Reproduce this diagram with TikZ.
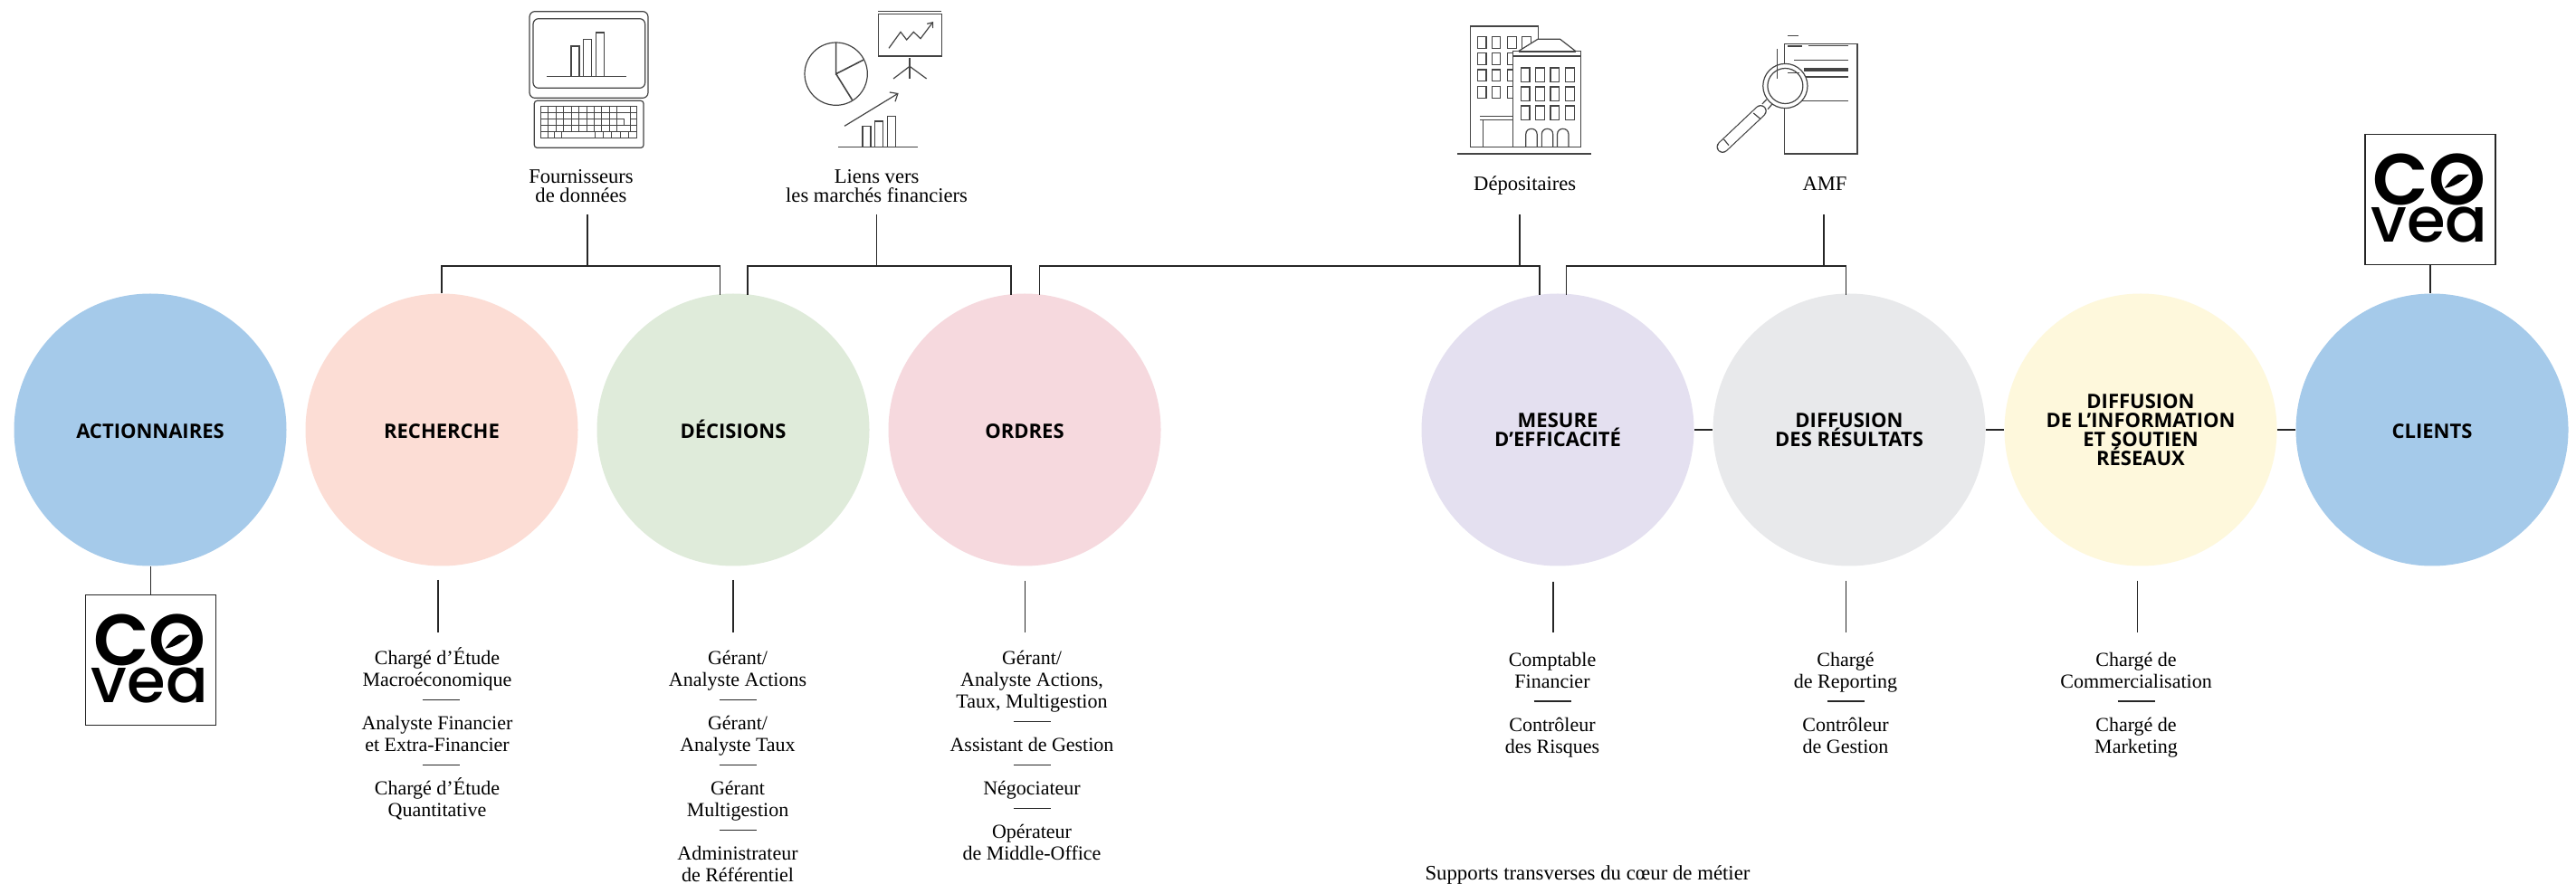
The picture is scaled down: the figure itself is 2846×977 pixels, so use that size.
\documentclass[tikz,border=0pt]{standalone}
\usepackage{fontspec}
\setmainfont{Liberation Serif}
\newfontfamily\headfont{Open Sans}
\newfontfamily\logofont{Poppins SemiBold}
\newfontfamily\logofontb{Poppins Medium}
\usetikzlibrary{arrows.meta}
\definecolor{cblue}{HTML}{A5CAEA}
\definecolor{cpeach}{HTML}{FCDDD5}
\definecolor{cgreen}{HTML}{DFEBDA}
\definecolor{cpink}{HTML}{F6D9DE}
\definecolor{cviolet}{HTML}{E4E0F0}
\definecolor{cgrey}{HTML}{E8E9EB}
\definecolor{cyellow}{HTML}{FEF8DC}
\definecolor{iconc}{HTML}{444444}
\tikzset{
  stage/.style={circle,minimum size=150.5pt,inner sep=0pt,align=center,text=black,text depth=-2.5pt,
    font=\headfont\bfseries\fontsize{11}{10.5}\selectfont},
  oneline/.style={text height=10pt,text depth=0pt},
  conn/.style={draw=black!85,line width=.7pt},
  icon/.style={draw=iconc,line width=.6pt},
  toplabel/.style={anchor=base,align=center,inner sep=0pt,font=\fontsize{11.3}{10.5}\selectfont},
  botlabel/.style={anchor=base,align=center,inner sep=0pt,font=\fontsize{11}{12}\selectfont},
  logobox/.style={draw=black!85,line width=.7pt,minimum size=72pt,inner sep=0pt,fill=white},
  logotext/.style={anchor=base,align=center,inner sep=0pt,font=\logofont\fontsize{40}{20.83}\selectfont},
}
\newcommand{\sepline}[2]{\draw[conn] ({#1-20.5},#2) -- ({#1+20.5},#2);}
\newcommand{\covealogo}[3]{%
  \node[logobox] (#1) at (#2,#3) {};
  \begin{scope}[shift={(#1.north west)},x=.16667pt,y=-.16667pt]
    \node[logotext] (#1-word) at (214.5,359)
      {CO\\\logofontb\fontsize{34.5}{20.83}\selectfont vea};
    \fill[black] (347,134) -- (312,134) .. controls (295,140) and (280,160) .. (265,179) .. controls (290,176) and (315,165) .. (347,134) -- cycle;
  \end{scope}}
\begin{document}
\begin{tikzpicture}[x=.5pt,y=-.5pt]
\useasboundingbox (0,0) rectangle (2846,977);
\fill[white] (0,0) rectangle (2846,977);

% stages
\node[stage,oneline,fill=cblue]   (act)  at (166,475)  {ACTIONNAIRES};
\node[stage,oneline,fill=cpeach]  (rech) at (488,475)  {RECHERCHE};
\node[stage,oneline,fill=cgreen]  (deci) at (810,475)  {DÉCISIONS};
\node[stage,oneline,fill=cpink]   (ordr) at (1132,475) {ORDRES};
\node[stage,fill=cviolet] (mes)  at (1721,475) {MESURE\\D’EFFICACITÉ};
\node[stage,fill=cgrey]   (dres) at (2043,475) {DIFFUSION\\DES RÉSULTATS};
\node[stage,fill=cyellow] (dinf) at (2365,475) {DIFFUSION\\DE L’INFORMATION\\ET SOUTIEN\\RÉSEAUX};
\node[stage,oneline,fill=cblue]   (cli)  at (2687,475) {CLIENTS};

% logos
\covealogo{logoa}{166.7}{729.7}
\covealogo{logob}{2685}{220.8}
\draw[conn] (act.south -| logoa.north) -- (logoa.north);
\draw[conn] (logob.south) -- (cli.north -| logob.south);

% links between stages
\draw[conn] (mes.east) -- (dres.west);
\draw[conn] (dres.east) -- (dinf.west);
\draw[conn] (dinf.east) -- (cli.west);

% top labels
\node[toplabel] (fourn) at (642,224) {Fournisseurs\\de données};
\node[toplabel] (liens) at (968.6,224) {Liens vers\\les marchés financiers};
\node[toplabel] (depo)  at (1684.7,210.5) {Dépositaires};
\node[toplabel] (amf)   at (2016,210.5) {AMF};

% top connectors
\coordinate (sa) at (649,237);
\coordinate (sb) at (968.6,237);
\coordinate (sc) at (1679,237);
\coordinate (sd) at (2015,237);
\coordinate (ba) at (649,294);
\coordinate (bb) at (968.6,294);
\coordinate (bc) at (1679,294);
\coordinate (bd) at (2015,294);
\coordinate (ea) at (795.5,326);
\coordinate (eb) at (826,326);
\coordinate (ec) at (1117,326);
\coordinate (ed) at (1148.6,326);
\coordinate (ee) at (1701,326);
\coordinate (ef) at (1730.5,326);
\coordinate (eg) at (2039.5,326);
\draw[conn] (sa) -- (ba);
\draw[conn] (sb) -- (bb);
\draw[conn] (sc) -- (bc);
\draw[conn] (sd) -- (bd);
\draw[conn] (rech.north) |- (ba) -| (ea);
\draw[conn] (eb) |- (bb) -| (ec);
\draw[conn] (ed) |- (bc) -| (ee);
\draw[conn] (ef) |- (bd) -| (eg);

% bottom stems
\coordinate (ta) at (484,641);   \coordinate (ua) at (484,699);
\coordinate (tb) at (810,641);   \coordinate (ub) at (810,699);
\coordinate (tc) at (1132.5,642);\coordinate (uc) at (1132.5,699);
\coordinate (td) at (1716,643);  \coordinate (ud) at (1716,699);
\coordinate (te) at (2039.4,642);\coordinate (ue) at (2039.4,699);
\coordinate (tf) at (2361.5,642);\coordinate (uf) at (2361.5,699);
\draw[conn] (ta) -- (ua); \draw[conn] (tb) -- (ub); \draw[conn] (tc) -- (uc);
\draw[conn] (td) -- (ud); \draw[conn] (te) -- (ue); \draw[conn] (tf) -- (uf);

% bottom text: recherche
\node[botlabel] (r1) at (483,758) {Chargé d’Étude\\Macroéconomique};
\sepline{487}{773.7}
\node[botlabel] (r2) at (483,830) {Analyste Financier\\et Extra-Financier};
\sepline{487}{845.7}
\node[botlabel] (r3) at (483,902) {Chargé d’Étude\\Quantitative};
% decisions
\node[botlabel] (d1) at (815,758) {Gérant/\\Analyste Actions};
\sepline{815}{773.7}
\node[botlabel] (d2) at (815,830) {Gérant/\\Analyste Taux};
\sepline{815}{845.7}
\node[botlabel] (d3) at (815,902) {Gérant\\Multigestion};
\sepline{815}{917.7}
\node[botlabel] (d4) at (815,974) {Administrateur\\de Référentiel};
% ordres
\node[botlabel] (o1) at (1140,782) {Gérant/\\Analyste Actions,\\Taux, Multigestion};
\sepline{1140}{797.7}
\node[botlabel] (o2) at (1140,830) {Assistant de Gestion};
\sepline{1140}{845.7}
\node[botlabel] (o3) at (1140,878) {Négociateur};
\sepline{1140}{893.7}
\node[botlabel] (o4) at (1140,950) {Opérateur\\de Middle-Office};
% mesure
\node[botlabel] (m1) at (1715,760) {Comptable\\Financier};
\sepline{1715}{775}
\node[botlabel] (m2) at (1715,832) {Contrôleur\\des Risques};
% resultats
\node[botlabel] (s1) at (2039,760) {Chargé\\de Reporting};
\sepline{2039}{775}
\node[botlabel] (s2) at (2039,832) {Contrôleur\\de Gestion};
% information
\node[botlabel] (i1) at (2360,760) {Chargé de\\Commercialisation};
\sepline{2360}{775}
\node[botlabel] (i2) at (2360,832) {Chargé de\\Marketing};
% transverse
\node[botlabel,font=\fontsize{11.4}{12}\selectfont] (sup) at (1754,972) {Supports transverses du cœur de métier};

% icon: computer
\begin{scope}[shift={(570,0)},x=.16667pt,y=-.16667pt]
  \draw[icon,rounded corners=3pt] (45,38) rectangle (438,325);
  \draw[icon,rounded corners=3pt] (57,62) rectangle (428,292);
  \draw[icon] (183,253) rectangle (210,153);
  \draw[icon] (224,253) rectangle (251,131);
  \draw[icon] (265,253) rectangle (293,108);
  \draw[icon] (102,253) -- (366,253);
  \draw[icon,rounded corners=1.5pt] (61,334) rectangle (423,490);
  \begin{scope}[line width=.4pt,draw=iconc]
    \foreach \r in {0,1,2,3} \foreach \k in {0,...,9}
      \draw ({82+25.3*\k},{352+21.2*\r}) rectangle ++(25.3,21.2);
    \draw (335,352) rectangle (378,373.2);
    \draw (378,352) rectangle (400,373.2);
    \draw (335,373.2) -- (378,373.2) -- (378,415.6) -- (358,415.6) -- (358,394.4) -- (335,394.4) -- cycle;
    \draw (378,373.2) rectangle (400,394.4);
    \draw (335,394.4) rectangle (358,415.6);
    \draw (378,394.4) rectangle (400,415.6);
    \draw (335,415.6) rectangle (378,436.8);
    \draw (378,415.6) rectangle (400,436.8);
    \foreach \k in {0,1,2} \draw ({82+22.7*\k},436.8) rectangle ++(22.7,21.2);
    \draw (150,436.8) rectangle (262,458);
    \foreach \k in {0,...,4} \draw ({262+27.6*\k},436.8) rectangle ++(27.6,21.2);
  \end{scope}
\end{scope}

% icon: charts
\begin{scope}[shift={(870,0)},x=.16667pt,y=-.16667pt]
  \draw[icon] (300,38) -- (511,38);
  \draw[icon,line width=.8pt] (301,47) rectangle (511,186);
  \draw[icon,-{Straight Barb[length=2.5pt,width=4pt]}] (336,160) -- (375,106) -- (395,132) -- (418,106) -- (441,128) -- (483,72);
  \draw[icon] (405,193) -- (405,261);
  \draw[icon] (351,261) -- (405,220) -- (461,261);
  \draw[icon] (161,245) circle[radius=17.33pt];
  \draw[icon,line width=.8pt] (161,141) -- (161,245) -- (253,198);
  \draw[icon,line width=.8pt] (161,245) -- (215,332);
  \draw[icon,-{Straight Barb[length=3.5pt,width=6pt]}] (189,418) -- (368,309);
  \draw[icon] (249,487) rectangle (276,418);
  \draw[icon] (290,487) rectangle (317,402);
  \draw[icon] (331,487) rectangle (358,386);
  \draw[icon] (168,487) -- (432,487);
\end{scope}

% icon: buildings
\begin{scope}[shift={(1580,0)},x=.17224pt,y=-.16667pt]
  \draw[icon] (128,488) -- (128,87) -- (346,87) -- (346,140);
  \draw[icon] (128,488) -- (266,488);
  \foreach \c in {152,198,248,295} \foreach \r/\h in {121/160,176/214,231/268,286/325}
    \draw[icon] (\c,\r) rectangle ({\c+28},\h);
  \draw[icon,fill=white] (283,170) -- (345,130) -- (417,130) -- (467,170) -- cycle;
  \draw[icon,fill=white] (266,170) rectangle (484,488);
  \draw[icon,line width=.8pt] (283,171) -- (467,171);
  \draw[icon] (266,186) -- (484,186);
  \foreach \c in {291,338,386,434} \foreach \r/\h in {225/271,288/335,351/398}
    \draw[icon] (\c,\r) rectangle ({\c+28},\h);
  \foreach \c in {307,358,408}
    \draw[icon] (\c,488) -- (\c,445) .. controls (\c,421) and ({\c+36},421) .. ({\c+36},445) -- ({\c+36},488);
  \draw[icon] (160,386) -- (266,386);
  \draw[icon] (160,397) -- (266,397);
  \draw[icon] (170,397) -- (170,488);
  \draw[icon,line width=.8pt] (87,510) -- (516,510);
\end{scope}

% icon: document and magnifier
\begin{scope}[shift={(1580,0)},x=.17224pt,y=-.16667pt]
  \draw[icon] (1137,146) rectangle (1370,510);
  \draw[icon,line width=.8pt] (1147,118) -- (1180,118);
  \draw[icon,line width=1pt] (1147,152) -- (1193,152);
  \draw[icon] (1212,152) -- (1342,152);
  \draw[icon] (1167,200) -- (1342,200);
  \draw[icon] (1200,228) -- (1342,228);
  \draw[icon] (1200,234) -- (1342,234);
  \draw[icon] (1200,255) -- (1342,255);
  \draw[icon] (1190,335) -- (1342,335);
  \draw[line cap=round,line width=6.6pt,iconc] (1060,368) -- (938,487);
  \draw[line cap=round,line width=5.4pt,white] (1060,368) -- (938,487);
  \draw[icon] (1079,330) -- (1065,345);
  \draw[icon] (1097,345) -- (1083,362);
  \draw[icon,fill=white] (1139,285) circle[radius=12.3pt];
  \draw[icon,fill=white] (1139,285) circle[radius=9.75pt];
  \draw[icon,line width=.8pt] (1113,163) -- (1113,260);
  \draw[icon,line width=.8pt] (1147,241) -- (1183,241);
  \draw[icon] (1037,375) -- (1060,395);
  \draw[icon] (942,462) -- (958,482);
\end{scope}
\end{tikzpicture}
\end{document}
